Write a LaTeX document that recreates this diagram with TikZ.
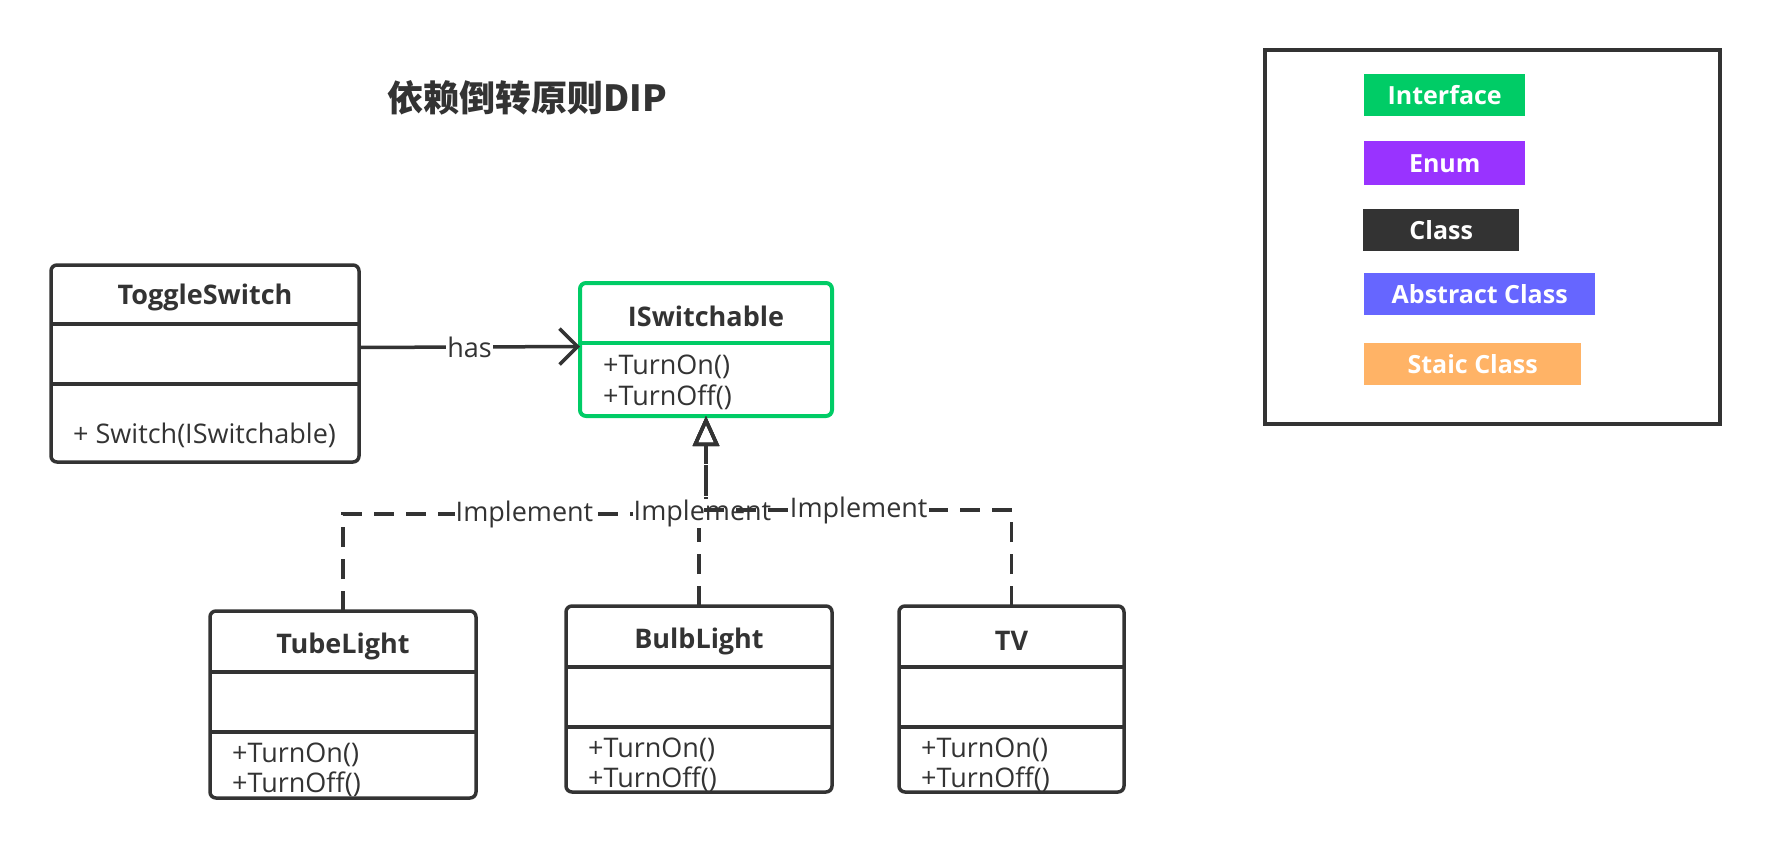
\documentclass[tikz,border=0pt]{standalone}
\usepackage{fontspec}
\setmainfont{Open Sans}
\newfontfamily\cjk{Noto Sans CJK SC}
\usepackage{tikz}
\usetikzlibrary{calc,arrows.meta}

\definecolor{ink}{HTML}{333333}
\definecolor{ifacegreen}{HTML}{00CC66}
\definecolor{enumpurple}{HTML}{9933FF}
\definecolor{abstractblue}{HTML}{6666FF}
\definecolor{staticorange}{HTML}{FFB366}

\tikzset{
  classbox/.style={draw=ink, line width=3.5pt, rounded corners=6pt, anchor=north west, inner sep=0pt, outer sep=0pt},
  classline/.style={draw=ink, line width=3.5pt},
  classname/.style={font=\fontsize{27}{32}\selectfont\bfseries, text=ink},
  method/.style={font=\fontsize{27}{32}\selectfont, text=ink, anchor=west, inner sep=0pt},
  lbl/.style={font=\fontsize{27}{32}\selectfont, text=ink, fill=white, inner sep=1pt},
  implement/.style={draw=ink, line width=3.5pt, dash pattern=on 20pt off 12pt, -{Triangle[open, length=30pt, width=26pt]}},
  legendbox/.style={anchor=north west, minimum height=42pt, inner sep=0pt, text=white, font=\fontsize{25}{30}\selectfont\bfseries}
}

\begin{document}
\begin{tikzpicture}[x=1pt, y=-1pt]
  \useasboundingbox (0,0) rectangle (1765,848);

  % title
  \node[font=\cjk\bfseries\fontsize{36}{40}\selectfont, text=ink] (title) at (527,98) {依赖倒转原则DIP};

  % ToggleSwitch
  \node[classbox, minimum width=308pt, minimum height=197pt] (toggle) at (51,265) {};
  \node[classname] at ($(toggle.north)+(0,32)$) {ToggleSwitch};
  \draw[classline] ($(toggle.north west)+(0,59)$) -- ($(toggle.north east)+(0,59)$);
  \draw[classline] ($(toggle.north west)+(0,119)$) -- ($(toggle.north east)+(0,119)$);
  \node[method] at ($(toggle.north west)+(22,170)$) {+ Switch(ISwitchable)};

  % ISwitchable
  \node[classbox, draw=ifacegreen, line width=4pt, minimum width=252pt, minimum height=133pt] (isw) at (580,283) {};
  \node[classname] at ($(isw.north)+(0,33)$) {ISwitchable};
  \draw[draw=ifacegreen, line width=4pt] ($(isw.north west)+(0,60)$) -- ($(isw.north east)+(0,60)$);
  \node[method] at ($(isw.north west)+(23,84)$) {+TurnOn()};
  \node[method] at ($(isw.north west)+(23,114)$) {+TurnOff()};

  % implementing classes
  \foreach \name/\title/\xl/\yt/\w/\h in {tube/TubeLight/210/611/266/187, bulb/BulbLight/566/606/266/186, tv/TV/899/606/225/186}
  {
    \node[classbox, minimum width=\w pt, minimum height=\h pt] (\name) at (\xl,\yt) {};
    \node[classname] at ($(\name.north)+(0,35)$) {\title};
    \draw[classline] ($(\name.north west)+(0,61)$) -- ($(\name.north east)+(0,61)$);
    \draw[classline] ($(\name.north west)+(0,121)$) -- ($(\name.north east)+(0,121)$);
    \node[method] at ($(\name.north west)+(22,144)$) {+TurnOn()};
    \node[method] at ($(\name.north west)+(22,173)$) {+TurnOff()};
  }

  % has
  \draw[draw=ink, line width=3.5pt, -{Straight Barb[length=18pt, width=36pt]}]
    ($(toggle.east)+(0,-16)$) -- ($(isw.west)+(0,-3)$) node[lbl, midway] {has};

  % implement
  \coordinate (jtube) at ($(isw.south)+(0,98)$);
  \coordinate (jbulb) at ($(isw.south)+(0,97)$);
  \coordinate (jtv) at ($(isw.south)+(0,94)$);
  \draw[implement] (tube.north) |- (jtube) node[lbl, pos=0.75] {Implement} -- (isw.south);
  \draw[implement] (bulb.north) |- (jbulb) node[lbl, pos=0.75] {Implement} -- (isw.south);
  \draw[implement] (tv.north) |- (jtv) node[lbl, pos=0.75] {Implement} -- (isw.south);

  % legend
  \node[draw=ink, line width=4pt, minimum width=455pt, minimum height=374pt, anchor=north west, inner sep=0pt] (legend) at (1263,48) {};
  \foreach \name/\txt/\col/\xl/\yt/\w/\h in {liface/Interface/ifacegreen/1364/74/161/42, lenum/Enum/enumpurple/1364/141/161/44, lclass/Class/ink/1363/209/156/42, labstract/Abstract Class/abstractblue/1364/273/231/42, lstatic/Staic Class/staticorange/1364/343/217/42}
  {
    \node[legendbox, fill=\col, minimum width=\w pt, minimum height=\h pt] (\name) at (\xl,\yt) {\txt};
  }
\end{tikzpicture}
\end{document}
